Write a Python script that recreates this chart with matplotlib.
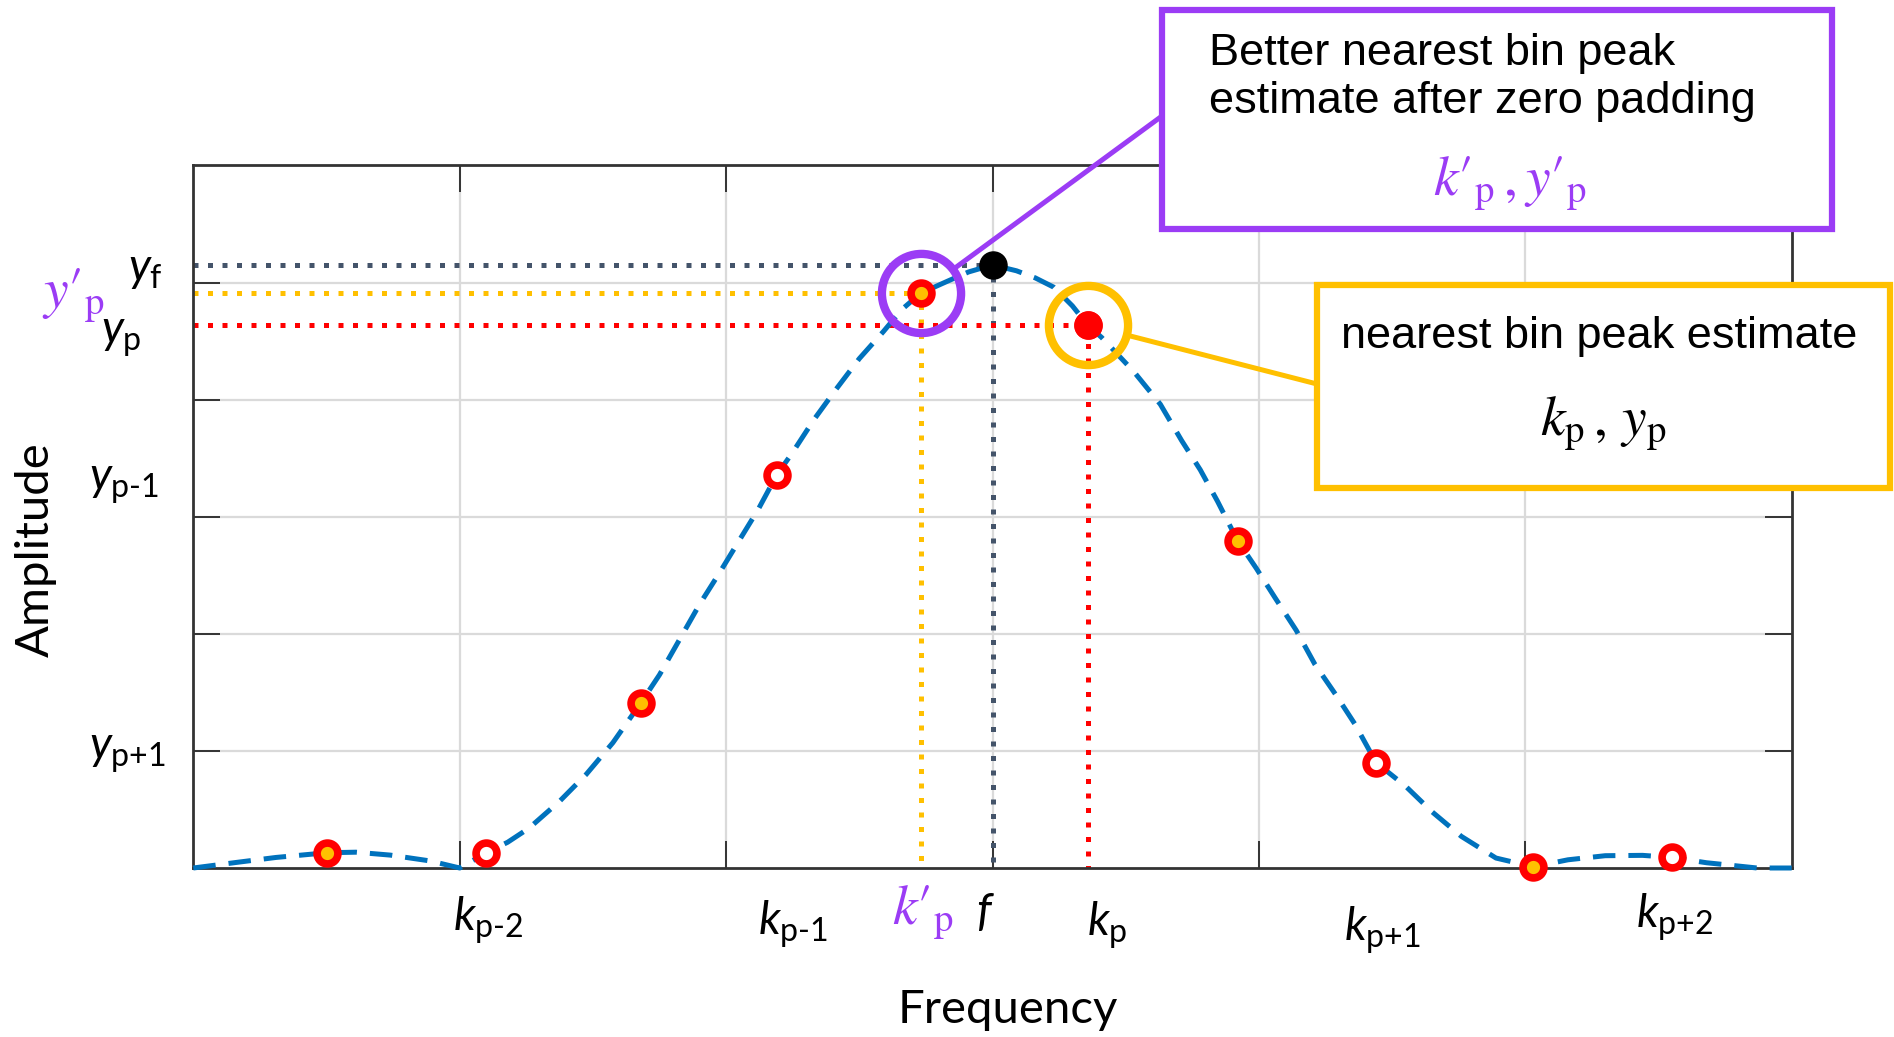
import matplotlib
matplotlib.use("Agg")
import matplotlib.pyplot as plt
from matplotlib.patches import Rectangle

W, H = 1894, 1037

# magnitude spectrum, sampled along the dashed trace
freq = [0.00, 0.17, 0.31, 0.50, 0.61, 0.74, 0.89, 1.00,
        1.10, 1.18, 1.26, 1.375, 1.475, 1.575, 1.68, 1.75, 1.83, 1.90, 1.975,
        2.05, 2.12, 2.19, 2.25, 2.33, 2.41, 2.50, 2.59, 2.66, 2.73, 2.83, 2.91,
        3.00, 3.09, 3.16, 3.23, 3.30, 3.357, 3.41, 3.53, 3.63, 3.71, 3.78, 3.845,
        3.92, 3.99, 4.06, 4.14, 4.21, 4.29, 4.36, 4.44, 4.55, 4.65, 4.76, 4.89,
        5.03, 5.16, 5.30, 5.44, 5.55, 5.68, 5.87, 6.00]
amp = [0.00, 0.05, 0.09, 0.13, 0.135, 0.11, 0.06, 0.00,
       0.13, 0.22, 0.34, 0.57, 0.80, 1.07, 1.41, 1.65, 1.97, 2.25, 2.52,
       2.80, 3.06, 3.356, 3.55, 3.83, 4.08, 4.35, 4.58, 4.77, 4.908, 5.01, 5.09,
       5.15, 5.10, 5.04, 4.96, 4.80, 4.637, 4.53, 4.24, 3.96, 3.65, 3.40, 3.13,
       2.795, 2.56, 2.31, 2.03, 1.74, 1.475, 1.23, 0.90, 0.70, 0.48, 0.27, 0.085,
       0.01, 0.07, 0.105, 0.108, 0.09, 0.045, 0.00, 0.00]

# DFT bins (original) and extra bins from zero padding
bin_x = [1.10, 2.19, 3.357, 4.44, 5.55]
bin_y = [0.13, 3.356, 4.637, 0.90, 0.09]
bin_names = ["p-2", "p-1", "p", "p+1", "p+2"]
pad_x = [0.50, 1.68, 2.73, 3.92, 5.03]
pad_y = [0.13, 1.41, 4.908, 2.795, 0.01]
kp = 2                      # nearest bin / padded nearest bin index
f_true, y_true = 3.00, 5.15

BLUE = "#0072BD"
RED = "#FF0000"
ORANGE = "#FFC000"
PURPLE = "#9B3CF5"
SLATE = "#44546A"

plt.rcParams["font.family"] = "Lato"
plt.rcParams["mathtext.fontset"] = "custom"
plt.rcParams["mathtext.rm"] = "Lato"
plt.rcParams["mathtext.it"] = "Lato:italic"
plt.rcParams["mathtext.bf"] = "Lato:bold"

PRIME = "\u2032"


def px(x, y):
    # pixel position measured from the top-left -> figure fraction
    return x / W, 1 - y / H


fig = plt.figure(figsize=(W / 100, H / 100), dpi=100)
ax = fig.add_axes([193.3 / W, 1 - 868 / H, (1791.7 - 193.3) / W, (868 - 165.4) / H])
ax.set_xlim(0, 6)
ax.set_ylim(0, 6)
ax.set_xticks([1, 2, 3, 4, 5])
ax.set_yticks([1, 2, 3, 4, 5])
ax.tick_params(direction="in", length=19.5, width=1.4, color="#333333",
               top=True, right=True, labelbottom=False, labelleft=False)
ax.grid(True, color="#dadada", lw=1.6)
ax.set_axisbelow(True)
for s in ax.spines.values():
    s.set_color("#333333")
    s.set_linewidth(2)

# guide lines to the axes
dot = dict(lw=3.6, ls=(0, (1, 1.9)), zorder=2)
ax.plot([0, f_true, f_true], [y_true, y_true, 0], color=SLATE, **dot)
ax.plot([0, pad_x[kp], pad_x[kp]], [pad_y[kp], pad_y[kp], 0], color=ORANGE, **dot)
ax.plot([0, bin_x[kp], bin_x[kp]], [bin_y[kp], bin_y[kp], 0], color=RED, **dot)

ax.plot(freq, amp, color=BLUE, lw=3.6, ls=(0, (4.5, 2.6)), zorder=3, clip_on=False)

ring = dict(ls="none", marker="o", ms=15, mew=5.5, mec=RED, zorder=5, clip_on=False)
ax.plot(bin_x, bin_y, mfc="white", **ring)
ax.plot(pad_x, pad_y, mfc=ORANGE, **ring)
ax.plot(bin_x[kp], bin_y[kp], mfc=RED, **ring)
ax.plot(f_true, y_true, "o", color="black", ms=19.5, zorder=5)

# highlight rings and their callout connectors
ax.plot(pad_x[kp], pad_y[kp], "o", ms=57, mew=6, mfc="none", mec=PURPLE, zorder=6)
ax.plot(bin_x[kp], bin_y[kp], "o", ms=57, mew=6, mfc="none", mec=ORANGE, zorder=6)
ax.annotate("", xy=(pad_x[kp], pad_y[kp]), xytext=(1162, H - 116),
            textcoords="figure pixels",
            arrowprops=dict(arrowstyle="-", color=PURPLE, lw=3.6, shrinkA=0, shrinkB=29))
ax.annotate("", xy=(bin_x[kp], bin_y[kp]), xytext=(1317, H - 384),
            textcoords="figure pixels",
            arrowprops=dict(arrowstyle="-", color=ORANGE, lw=3.6, shrinkA=0, shrinkB=29))

# callout boxes
for (x0, y0, x1, y1), ec in [((1162, 10, 1832, 229), PURPLE), ((1317, 285, 1890, 488), ORANGE)]:
    fig.add_artist(Rectangle(px(x0, y1), (x1 - x0) / W, (y1 - y0) / H,
                             transform=fig.transFigure, fc="white", ec=ec, lw=4.5, zorder=5))

box_txt = dict(family="Liberation Sans", fontsize=32.5, zorder=10)
fig.text(*px(1209, 65), "Better nearest bin peak", ha="left", va="baseline", **box_txt)
fig.text(*px(1209, 113.5), "estimate after zero padding", ha="left", va="baseline", **box_txt)
fig.text(*px(1599, 348), "nearest bin peak estimate", ha="center", va="baseline", **box_txt)
fig.text(*px(1510, 184), r"$k%s{}_{\mathrm{p}}\,,y%s{}_{\mathrm{p}}$" % (PRIME, PRIME),
         color=PURPLE, ha="center", va="center", fontsize=40, math_fontfamily="stix", zorder=10)
fig.text(*px(1603, 424), r"$k_{\mathrm{p}}\,,\,y_{\mathrm{p}}$", color="black",
         ha="center", va="center", fontsize=40, math_fontfamily="stix", zorder=10)

# bin labels along the frequency axis
lab = dict(fontsize=33, ha="center", va="center")
k_pos = [(488.5, 920), (793, 924), (1107, 925), (1382, 930), (1675, 917)]
for name, (x, y) in zip(bin_names, k_pos):
    fig.text(*px(x, y), r"$k_{\text{%s}}$" % name, **lab)
fig.text(*px(923, 913), r"$k%s{}_{\mathrm{p}}$" % PRIME, color=PURPLE, fontsize=40,
         ha="center", va="center", math_fontfamily="stix")
fig.text(*px(985, 913), r"$f$", **lab)

# amplitude labels
fig.text(*px(145, 270), r"$y_{\text{f}}$", **lab)
fig.text(*px(74, 296), r"$y%s{}_{\mathrm{p}}$" % PRIME, color=PURPLE, fontsize=40,
         ha="center", va="center", math_fontfamily="stix")
fig.text(*px(121, 338), r"$y_{\text{p}}$", **lab)
fig.text(*px(124, 485), r"$y_{\text{p-1}}$", **lab)
fig.text(*px(127, 754), r"$y_{\text{p+1}}$", **lab)

fig.text(*px(36, 550), "Amplitude", rotation=90, ha="center", va="center", fontsize=34)
fig.text(*px(1008, 1010), "Frequency", ha="center", va="center", fontsize=34)

fig.savefig("out.png", dpi=100, facecolor="white")
